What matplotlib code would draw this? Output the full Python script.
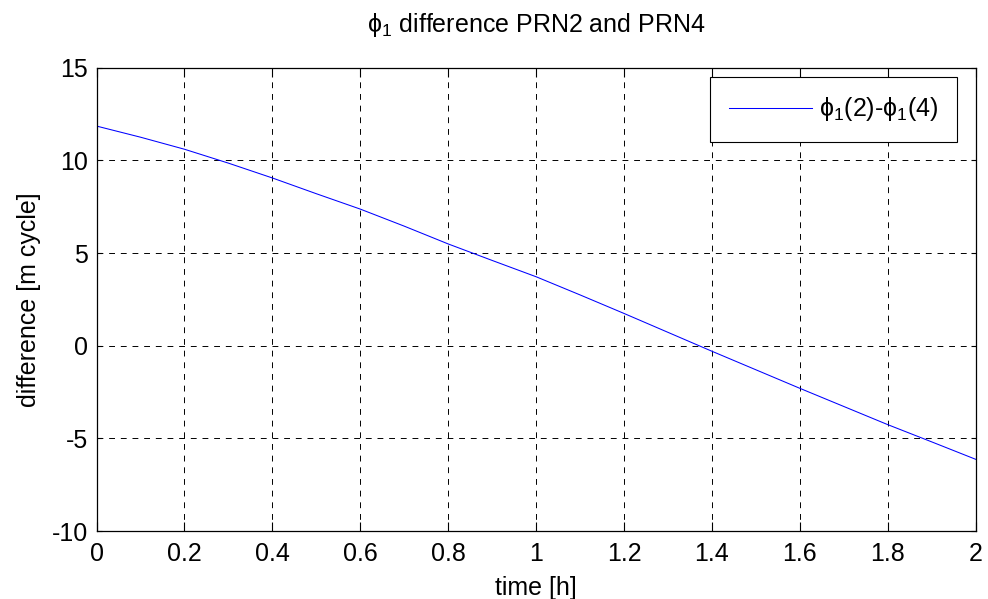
import matplotlib
matplotlib.use("Agg")
import matplotlib.pyplot as plt

# --- Data ---
time_h = [0.0, 0.1, 0.2, 0.3, 0.4, 0.5, 0.6, 0.7, 0.8, 0.9, 1.0,
          1.1, 1.2, 1.3, 1.4, 1.5, 1.6, 1.7, 1.8, 1.9, 2.0]
diff_cycles = [11.85, 11.25, 10.6, 9.85, 9.05, 8.2, 7.37, 6.45, 5.49, 4.6, 3.72,
               2.74, 1.74, 0.72, -0.3, -1.3, -2.3, -3.28, -4.26, -5.19, -6.13]
xticks = [0, 0.2, 0.4, 0.6, 0.8, 1, 1.2, 1.4, 1.6, 1.8, 2]
xticklabels = ["0", "0.2", "0.4", "0.6", "0.8", "1", "1.2", "1.4", "1.6", "1.8", "2"]
yticks = [-10, -5, 0, 5, 10, 15]

plt.rcParams["font.family"] = ["Liberation Sans", "DejaVu Sans"]
plt.rcParams["mathtext.fontset"] = "custom"
plt.rcParams["mathtext.rm"] = "Liberation Sans"
plt.rcParams["mathtext.it"] = "Liberation Sans:italic"
plt.rcParams["axes.unicode_minus"] = False

fig = plt.figure(figsize=(9.88, 5.99), dpi=100)
ax = fig.add_axes([0.0977, 0.1135, 0.8898, 0.7735])

ax.plot(time_h, diff_cycles, color=(0, 0, 1), linewidth=0.75,
        label=r"ϕ$_{\mathrm{1}}$(2)-ϕ$_{\mathrm{1}}$(4)")

ax.set_xlim(0, 2)
ax.set_ylim(-10, 15)
ax.set_xticks(xticks)
ax.set_xticklabels(xticklabels)
ax.set_yticks(yticks)
ax.tick_params(direction="in", width=0.8, top=True, right=True, labelsize=18)
ax.tick_params(axis="x", length=6.5, pad=8)
ax.tick_params(axis="y", length=3.6, pad=6)
for s in ax.spines.values():
    s.set_linewidth(0.9)

ax.grid(True, color="black", linestyle=(0, (6, 6)), linewidth=0.7)

ax.set_xlabel("time [h]", fontsize=18, labelpad=7)
ax.set_ylabel("difference [m cycle]", fontsize=18, labelpad=8)
ax.set_title(r"ϕ$_{\mathrm{1}}$ difference PRN2 and PRN4", fontsize=18, pad=26)

leg = ax.legend(loc="upper right", bbox_to_anchor=(0.979, 0.9806), borderaxespad=0,
                fontsize=18, handlelength=3.3, handletextpad=0.3, borderpad=0.75,
                fancybox=False, framealpha=1, edgecolor="black")
leg.get_frame().set_linewidth(0.8)

fig.savefig("out.png", dpi=100)
